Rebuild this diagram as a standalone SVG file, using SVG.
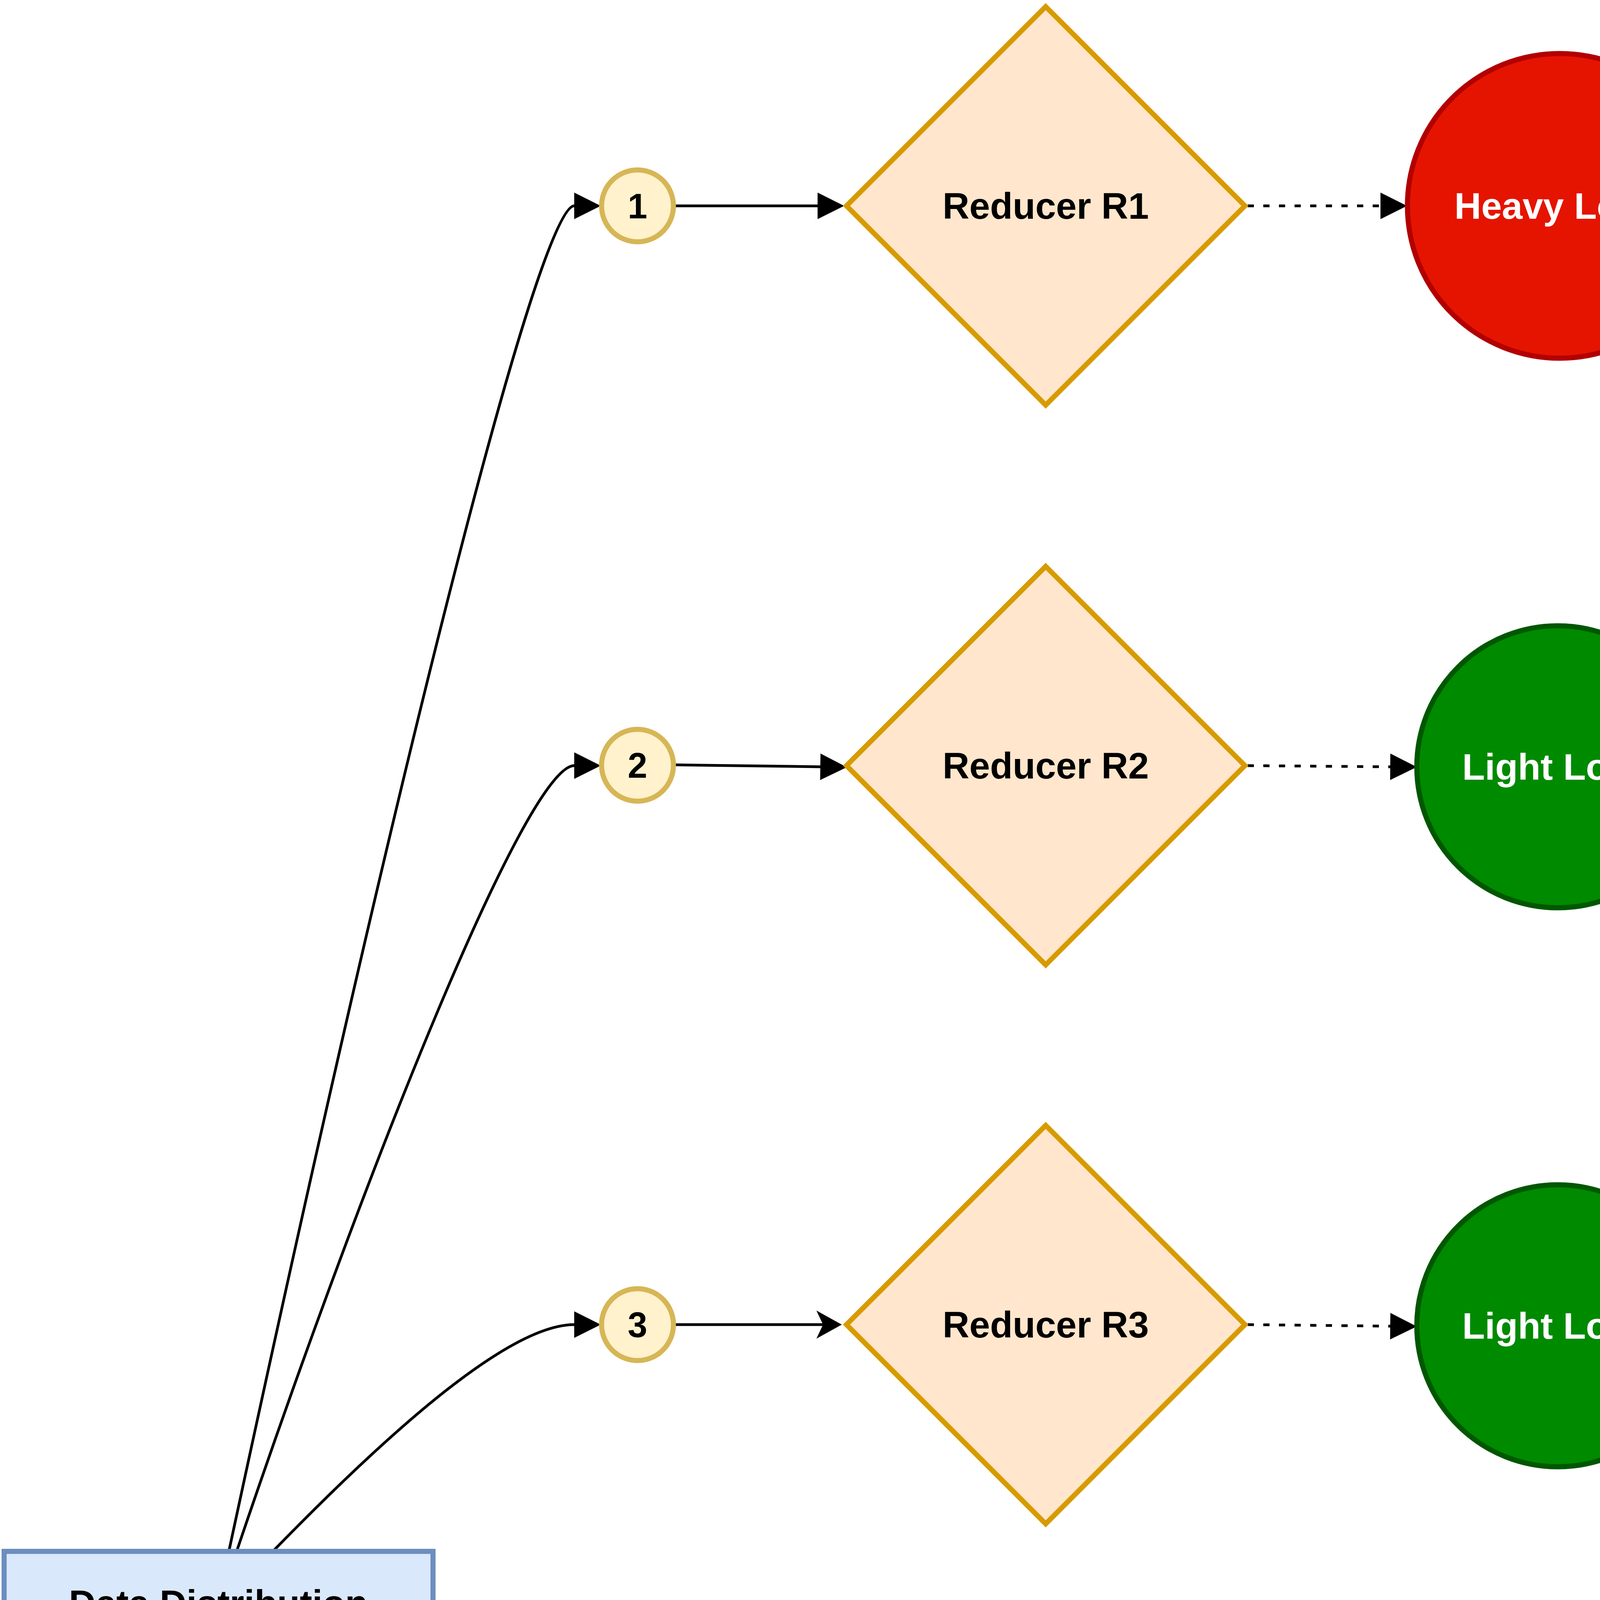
<svg xmlns="http://www.w3.org/2000/svg" width="4384" height="6776" viewBox="0 0 4384 6776">
<style>
text{font-family:"Liberation Sans",Arial,Helvetica,sans-serif;font-weight:bold;text-anchor:middle}
.lbl{font-size:95px;fill:#000}
.wht{font-size:95px;fill:#fff}
.num{font-size:90px;fill:#000}
.c{fill:none;stroke:#000;stroke-width:7}
.dot{fill:none;stroke:#000;stroke-width:7;stroke-dasharray:16 24}
.step{fill:#fff2cc;stroke:#d6b656;stroke-width:13}
.red{fill:#ffe6cc;stroke:#d79b00;stroke-width:13}
</style>
<defs>
<marker id="blk" markerUnits="userSpaceOnUse" markerWidth="70" markerHeight="68" refX="0" refY="34" orient="auto" overflow="visible">
<path d="M0,0 L68,34 L0,68 Z" fill="#000"/>
</marker>
<marker id="cls" markerUnits="userSpaceOnUse" markerWidth="66" markerHeight="72" refX="17" refY="36" orient="auto" overflow="visible">
<path d="M0,0 L65,36 L0,72 L17,36 Z" fill="#000"/>
</marker>
</defs>
<rect width="4384" height="6776" fill="#fff"/>
<g id="connectors">
<path class="c" d="M586,3971 C1016,1971 1380,527 1470,527" marker-end="url(#blk)"/>
<path class="c" d="M606,3971 C944,2971 1350,1960 1470,1960" marker-end="url(#blk)"/>
<path class="c" d="M699,3971 C1020,3641 1310,3391 1470,3391" marker-end="url(#blk)"/>
<path class="c" d="M702,4251 C1152,4601 1335,4823 1470,4823" marker-end="url(#blk)"/>
<path class="c" d="M631,4251 C1002,4951 1340,5537 1440,5537" marker-end="url(#blk)"/>
<path class="c" d="M606,4251 C944,5251 1370,6259 1470,6259" marker-end="url(#blk)"/>
<path class="c" d="M1730,527 L2093,527" marker-end="url(#blk)"/>
<path class="c" d="M1730,1958 L2100,1963" marker-end="url(#blk)"/>
<path class="c" d="M1730,3391 L2107,3391" marker-end="url(#cls)"/>
<path class="c" d="M1730,4823 L2107,4823" marker-end="url(#cls)"/>
<path class="c" d="M1737,6259 L1946,6259 L2107,6254" marker-end="url(#cls)"/>
<path class="dot" d="M3194,527 L3534,527" marker-end="url(#blk)"/>
<path class="dot" d="M3194,1960 L3559,1963" marker-end="url(#blk)"/>
<path class="dot" d="M3194,3391 L3559,3395" marker-end="url(#blk)"/>
<path class="dot" d="M3194,4823 L3631,4824" marker-end="url(#blk)"/>
<path class="dot" d="M3200,6255 L3559,6259" marker-end="url(#blk)"/>
</g>
<g id="data-distribution">
<rect x="10.5" y="3971.5" width="1098" height="273" fill="#dae8fc" stroke="#6c8ebf" stroke-width="13"/>
<text class="lbl" x="559" y="4137">Data Distribution</text>
</g>
<g id="step-1"><circle class="step" cx="1632" cy="527" r="92"/><text class="num" x="1632" y="559">1</text></g>
<g id="step-2"><circle class="step" cx="1632" cy="1959" r="92"/><text class="num" x="1632" y="1991">2</text></g>
<g id="step-3"><circle class="step" cx="1632" cy="3391" r="92"/><text class="num" x="1632" y="3423">3</text></g>
<g id="step-4"><circle class="step" cx="1632" cy="4823" r="92"/><text class="num" x="1632" y="4855">4</text></g>
<g id="step-more"><circle class="step" cx="1640" cy="5537" r="133"/><text class="num" x="1637" y="5570" style="font-size:100px">...</text></g>
<g id="step-n"><circle class="step" cx="1635" cy="6259" r="96"/><text class="num" x="1635" y="6289" style="font-size:115px">n</text></g>
<g id="reducer-r1"><polygon class="red" points="2677,17 3187,527 2677,1037 2167,527"/><text class="lbl" x="2677" y="560">Reducer R1</text></g>
<g id="reducer-r2"><polygon class="red" points="2677,1450 3187,1960 2677,2470 2167,1960"/><text class="lbl" x="2677" y="1993">Reducer R2</text></g>
<g id="reducer-r3"><polygon class="red" points="2677,2881 3187,3391 2677,3901 2167,3391"/><text class="lbl" x="2677" y="3424">Reducer R3</text></g>
<g id="reducer-r4"><polygon class="red" points="2677,4313 3187,4823 2677,5333 2167,4823"/><text class="lbl" x="2677" y="4856">Reducer R4</text></g>
<g id="reducer-rn"><polygon class="red" points="2677,5745 3187,6255 2677,6765 2167,6255"/><text class="lbl" x="2677" y="6288">Reducer Rn</text></g>
<g id="load-1"><circle cx="3993" cy="527" r="390" fill="#e51400" stroke="#b20000" stroke-width="13"/><text class="wht" x="3990" y="560">Heavy Load</text></g>
<g id="load-2"><circle cx="3988" cy="1963" r="361" fill="#008a00" stroke="#005700" stroke-width="13"/><text class="wht" x="3986" y="1996">Light Load</text></g>
<g id="load-3"><circle cx="3988" cy="3394" r="361" fill="#008a00" stroke="#005700" stroke-width="13"/><text class="wht" x="3986" y="3427">Light Load</text></g>
<g id="load-4"><circle cx="3991" cy="4824" r="293" fill="#ccffcc" stroke="#0e8088" stroke-width="13"/><text class="lbl" x="3989" y="4857">No Load</text></g>
<g id="load-n"><circle cx="3988" cy="6260" r="361" fill="#008a00" stroke="#005700" stroke-width="13"/><text class="wht" x="3986" y="6293">Light Load</text></g>
</svg>
